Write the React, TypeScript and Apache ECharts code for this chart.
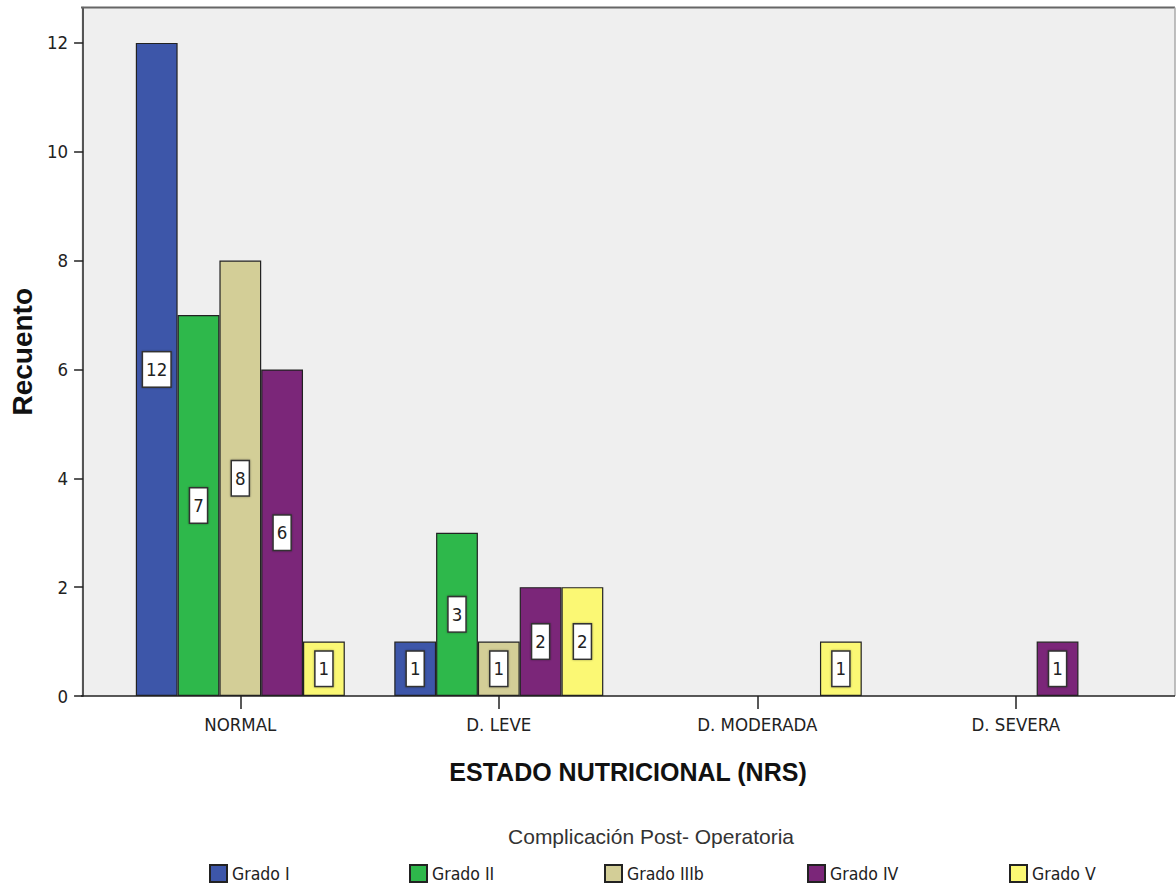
import React, { useEffect, useRef } from "react";
import * as echarts from "echarts";

const categories = ["NORMAL", "D. LEVE", "D. MODERADA", "D. SEVERA"];
const seriesNames = ["Grado I", "Grado II", "Grado IIIb", "Grado IV", "Grado V"];
const gradoI = [12, 1, null, null];
const gradoII = [7, 3, null, null];
const gradoIIIb = [8, 1, null, null];
const gradoIV = [6, 2, null, 1];
const gradoV = [1, 2, 1, null];
const seriesValues = [gradoI, gradoII, gradoIIIb, gradoIV, gradoV];
const colors = ["#3d56a9", "#2eb84b", "#d3ce97", "#7b2679", "#fbf874"];
const yTicks = [0, 2, 4, 6, 8, 10, 12];

const NARROW = "'Liberation Sans Narrow', 'Arial Narrow', 'DejaVu Sans Condensed', sans-serif";
const ARIAL = "'Liberation Sans', Arial, sans-serif";

export default function App() {
  const ref = useRef<HTMLDivElement>(null);
  useEffect(() => {
    if (!ref.current) return;
    const chart = echarts.init(ref.current, null, { renderer: "svg" });
    const frameL = 81, frameR = 1175, frameT = 7.5, frameB = 696;
    const legendLefts = [209, 409, 604, 807, 1009];
    chart.setOption({
      animation: false,
      backgroundColor: "#ffffff",
      grid: { left: 109, right: 31, top: frameT, bottom: 885 - frameB, containLabel: false },
      xAxis: {
        type: "category",
        data: categories,
        axisLine: { show: false },
        axisTick: { show: true, alignWithLabel: true, length: 13, lineStyle: { color: "#222", width: 1.5 } },
        axisLabel: { margin: 19, fontFamily: NARROW, fontSize: 18.5, color: "#222" },
        name: "ESTADO NUTRICIONAL (NRS)",
        nameLocation: "middle",
        nameGap: 63,
        nameTextStyle: { fontFamily: ARIAL, fontWeight: "bold", fontSize: 25, color: "#111" },
      },
      yAxis: {
        type: "value",
        min: 0,
        max: 12.65,
        interval: 2,
        offset: 28,
        splitLine: { show: false },
        axisLine: { show: true, lineStyle: { color: "#222", width: 1.5 } },
        axisTick: { show: true, length: 9, customValues: yTicks, lineStyle: { color: "#222", width: 1.5 } },
        axisLabel: { margin: 15, fontFamily: NARROW, fontSize: 18.5, color: "#222", customValues: yTicks },
        name: "Recuento",
        nameLocation: "middle",
        nameGap: 45,
        nameTextStyle: { fontFamily: ARIAL, fontWeight: "bold", fontSize: 28, color: "#111" },
      },
      legend: seriesNames.map((n, i) => ({
        data: [n],
        left: legendLefts[i],
        top: 864,
        itemWidth: 17,
        itemHeight: 17,
        icon: "rect",
        padding: 0,
        textStyle: { fontFamily: NARROW, fontSize: 17.5, color: "#222" },
      })),
      graphic: [
        {
          type: "rect",
          z: -10,
          shape: { x: frameL, y: frameT, width: frameR - frameL, height: frameB - frameT },
          style: { fill: "#efefef" },
        },
        {
          type: "line",
          z: 10,
          shape: { x1: frameL, y1: frameT, x2: frameR, y2: frameT },
          style: { stroke: "#666", lineWidth: 2 },
        },
        {
          type: "line",
          z: 10,
          shape: { x1: frameR, y1: frameT, x2: frameR, y2: frameB },
          style: { stroke: "#aaa", lineWidth: 1.5 },
        },
        {
          type: "line",
          z: 10,
          shape: { x1: frameL, y1: frameB, x2: frameR, y2: frameB },
          style: { stroke: "#222", lineWidth: 1.5 },
        },
        {
          type: "text",
          x: 651,
          y: 836,
          style: {
            text: "Complicación Post- Operatoria",
            fontFamily: ARIAL,
            fontSize: 21,
            fill: "#333",
            align: "center",
            verticalAlign: "middle",
          },
        },
      ],
      series: seriesNames.map((n, i) => ({
        type: "bar",
        name: n,
        data: seriesValues[i],
        barWidth: 41.8,
        barGap: "0%",
        itemStyle: { color: colors[i], borderColor: "#222", borderWidth: 1.2 },
        label: {
          show: true,
          position: "inside",
          fontFamily: NARROW,
          fontSize: 18.5,
          color: "#222",
          backgroundColor: "#ffffff",
          borderColor: "#333",
          borderWidth: 1.5,
          padding: [8, 3, 7, 3],
          shadowColor: "rgba(0,0,0,0.35)",
          shadowBlur: 2,
        },
      })),
    });
    return () => chart.dispose();
  }, []);
  return (
    <div
      ref={ref}
      style={{ position: "fixed", left: 0, top: 0, width: 1176, height: 885 }}
    />
  );
}
